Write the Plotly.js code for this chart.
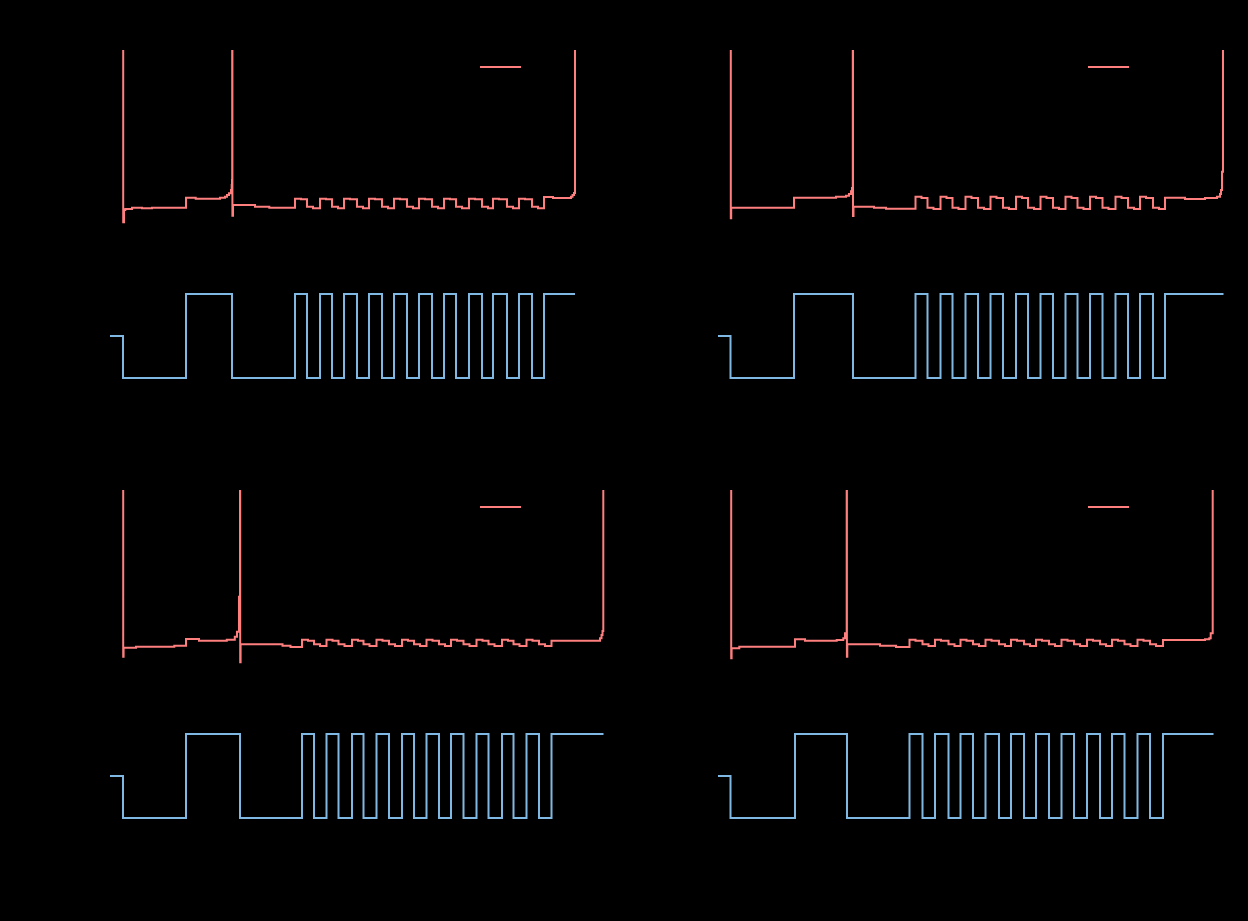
<!DOCTYPE html>
<html>
<head>
<meta charset="utf-8">
<script src="https://cdn.plot.ly/plotly-3.0.1.min.js"></script>
<style>
html, body { margin: 0; padding: 0; background: #000; }
#chart { width: 1248px; height: 921px; }
</style>
</head>
<body>
<div id="chart"></div>
<script>
// ---------------- data ----------------
const seriesName = "Voltage";

// current step levels (same sequence in all four panels): rest, discharge, charge, ...
const currentLevels = [0, -1, 1, -1, 1, -1, 1, -1, 1, -1, 1, -1, 1, -1, 1, -1, 1, -1, 1, -1, 1, -1, 1, -1, 1, 1];

// panel 1 (top-left)
const currentTime1 = [0, 13, 76, 122, 185, 197, 210, 222, 234, 247, 259, 272, 284, 297, 309, 322, 334, 346, 359, 372, 383, 397, 409, 422, 434, 465];
const voltageTime1 = [13, 13.2, 14, 15.3, 22, 32, 42, 76, 85.7, 110, 115, 117, 119, 121, 121.7, 122, 122.2, 122.4, 123, 145, 159.3,
  185, 191, 197, 203, 210, 216, 222, 228, 234, 240, 247, 253, 259, 265, 272, 278, 284, 290, 297, 303,
  309, 315, 322, 328, 334, 340, 346, 352, 359, 365, 372, 378, 383, 389, 397, 403, 409, 415, 422, 428,
  434, 443, 461, 462.5, 464, 465];
const voltage1 = [4.6, 3.043, 3.111, 3.117, 3.124, 3.121, 3.124, 3.179, 3.174, 3.179, 3.185, 3.194, 3.204, 3.222, 3.25, 3.278, 4.6, 3.079, 3.139, 3.129, 3.124,
  3.174, 3.171, 3.129, 3.121, 3.174, 3.171, 3.129, 3.121, 3.174, 3.171, 3.129, 3.121, 3.174, 3.171, 3.129, 3.121, 3.174, 3.171, 3.129, 3.121,
  3.174, 3.171, 3.129, 3.121, 3.174, 3.171, 3.129, 3.121, 3.174, 3.171, 3.129, 3.121, 3.174, 3.171, 3.129, 3.121, 3.174, 3.171, 3.129, 3.121,
  3.183, 3.178, 3.185, 3.194, 3.206, 4.6];

// panel 2 (top-right)
const currentTime2 = [0, 12.5, 76, 135, 197.5, 209.5, 222.5, 234.5, 247.5, 260, 272.5, 285, 298, 310, 322.5, 335, 347.5, 359.5, 372, 384.5, 397.5, 410, 422, 435, 447, 505.5];
const voltageTime2 = [12.6, 12.8, 13.2, 76, 118, 128, 131, 133, 134, 134.8, 135, 135.5, 156, 168,
  197.5, 203.5, 209.5, 215.5, 222.5, 228.5, 234.5, 240.5, 247.5, 253.5, 260, 266, 272.5, 278.5, 285, 291, 298, 304, 310, 316,
  322.5, 328.5, 335, 341, 347.5, 353.5, 359.5, 365.5, 372, 378, 384.5, 390.5, 397.5, 403.5, 410, 416, 422, 428, 435, 441,
  447, 467, 487, 499, 502, 503, 504, 505];
const voltage2 = [4.6, 3.065, 3.124, 3.179, 3.185, 3.19, 3.2, 3.215, 3.233, 4.6, 3.078, 3.129, 3.124, 3.118,
  3.185, 3.178, 3.124, 3.117, 3.185, 3.178, 3.124, 3.117, 3.185, 3.178, 3.124, 3.117, 3.185, 3.178, 3.124, 3.117, 3.185, 3.178, 3.124, 3.117,
  3.185, 3.178, 3.124, 3.117, 3.185, 3.178, 3.124, 3.117, 3.185, 3.178, 3.124, 3.117, 3.185, 3.178, 3.124, 3.117, 3.185, 3.178, 3.124, 3.117,
  3.179, 3.172, 3.178, 3.185, 3.2, 3.222, 3.324, 4.6];

// panel 3 (bottom-left)
const currentTime3 = [0, 13, 76, 130, 192, 204, 216.5, 228.5, 242, 253.5, 266.5, 279, 292, 304, 316.5, 329, 341, 353.5, 366.5, 378.5, 392, 403.5, 416.5, 429, 441.5, 493.5];
const voltageTime3 = [13, 13.2, 13.6, 26, 64.3, 76, 89, 116.8, 124.8, 127, 129, 130, 130.2, 130.6, 172.5, 180.5,
  192, 198, 204, 210, 216.5, 222.5, 228.5, 234.5, 242, 248, 253.5, 259.5, 266.5, 272.5, 279, 285, 292, 298, 304, 310,
  316.5, 322.5, 329, 335, 341, 347, 353.5, 359.5, 366.5, 372.5, 378.5, 384.5, 392, 398, 403.5, 409.5, 416.5, 422.5, 429, 435,
  441.5, 490, 491.5, 492.5, 493.3];
const voltage3 = [4.6, 3.074, 3.124, 3.129, 3.135, 3.172, 3.163, 3.168, 3.185, 3.213, 3.407, 4.6, 3.043, 3.143, 3.135, 3.128,
  3.168, 3.163, 3.143, 3.133, 3.168, 3.163, 3.143, 3.133, 3.168, 3.163, 3.143, 3.133, 3.168, 3.163, 3.143, 3.133, 3.168, 3.163, 3.143, 3.133,
  3.168, 3.163, 3.143, 3.133, 3.168, 3.163, 3.143, 3.133, 3.168, 3.163, 3.143, 3.133, 3.168, 3.163, 3.143, 3.133, 3.168, 3.163, 3.143, 3.133,
  3.163, 3.176, 3.194, 3.217, 4.6];

// panel 4 (bottom-right)
const currentTime4 = [0, 12.5, 77, 129, 191.5, 204.5, 217, 230.5, 242.5, 255, 267.5, 281, 293, 306, 318, 331, 343.5, 356, 369, 382, 394, 406.5, 419.5, 432, 445, 495.5];
const voltageTime4 = [13, 13.2, 13.6, 21.3, 77, 87, 118.7, 125.3, 127, 128.7, 128.9, 129.3, 162, 178,
  191.5, 197.5, 204.5, 210.5, 217, 223, 230.5, 236.5, 242.5, 248.5, 255, 261, 267.5, 273.5, 281, 287, 293, 299, 306, 312,
  318, 324, 331, 337, 343.5, 349.5, 356, 362, 369, 375, 382, 388, 394, 400, 406.5, 412.5, 419.5, 425.5, 432, 438,
  445, 487, 491.3, 492.7, 494.7];
const voltage4 = [4.6, 3.065, 3.121, 3.129, 3.171, 3.163, 3.167, 3.176, 3.204, 4.6, 3.074, 3.143, 3.135, 3.128,
  3.168, 3.163, 3.143, 3.133, 3.168, 3.163, 3.143, 3.133, 3.168, 3.163, 3.143, 3.133, 3.168, 3.163, 3.143, 3.133, 3.168, 3.163, 3.143, 3.133,
  3.168, 3.163, 3.143, 3.133, 3.168, 3.163, 3.143, 3.133, 3.168, 3.163, 3.143, 3.133, 3.168, 3.163, 3.143, 3.133, 3.168, 3.163, 3.143, 3.133,
  3.167, 3.171, 3.176, 3.204, 4.6];

// ---------------- layout helpers ----------------
const W = 1248, H = 921;
const xdom = (l, r) => [l / W, r / W];
const ydom = (top, bottom) => [1 - bottom / H, 1 - top / H];

const RED = "#ff7f7f";
const BLUE = "#7fb9e3";
const INK = "#000000";

const panels = [
  { vt: voltageTime1, v: voltage1, ct: currentTime1, col: [85, 620], top: 0 },
  { vt: voltageTime2, v: voltage2, ct: currentTime2, col: [693, 1228], top: 0 },
  { vt: voltageTime3, v: voltage3, ct: currentTime3, col: [85, 620], top: 440 },
  { vt: voltageTime4, v: voltage4, ct: currentTime4, col: [693, 1228], top: 440 }
];

const traces = [];
const layout = {
  width: W, height: H,
  margin: { l: 0, r: 0, t: 0, b: 0 },
  paper_bgcolor: "#000", plot_bgcolor: "#000",
  font: { family: "DejaVu Sans", size: 12, color: INK },
  showlegend: true
};

function axisBase(extra) {
  return Object.assign({
    showgrid: false, zeroline: false, showline: true, linecolor: INK, linewidth: 1,
    ticks: "outside", tickcolor: INK, tickfont: { color: INK, size: 11 }
  }, extra);
}

panels.forEach((p, i) => {
  const a = 2 * i + 1, b = 2 * i + 2;
  const xa = a === 1 ? "x" : "x" + a, ya = a === 1 ? "y" : "y" + a;
  const xb = "x" + b, yb = "y" + b;
  const legendId = i === 0 ? "legend" : "legend" + (i + 1);

  traces.push({
    x: p.vt, y: p.v, xaxis: xa, yaxis: ya, type: "scatter", mode: "lines",
    line: { color: RED, width: 2, shape: "hv" }, name: seriesName, legend: legendId,
    hoverinfo: "x+y"
  });
  traces.push({
    x: p.ct, y: currentLevels, xaxis: xb, yaxis: yb, type: "scatter", mode: "lines",
    line: { color: BLUE, width: 2, shape: "hv" }, name: "Current", showlegend: false,
    hoverinfo: "x+y"
  });

  const xk = (n) => (n === 1 ? "xaxis" : "xaxis" + n);
  const yk = (n) => (n === 1 ? "yaxis" : "yaxis" + n);
  layout[xk(a)] = axisBase({ domain: xdom(p.col[0], p.col[1]), range: [-25, 510], anchor: ya, showticklabels: false });
  layout[yk(a)] = axisBase({ domain: ydom(50 + p.top, 230 + p.top), range: [3.0, 4.0], anchor: xa,
    title: { text: "Voltage (V)", font: { color: INK, size: 12 } } });
  layout[xk(b)] = axisBase({ domain: xdom(p.col[0], p.col[1]), range: [-25, 510], anchor: yb,
    title: { text: "Time (s)", font: { color: INK, size: 12 } } });
  layout[yk(b)] = axisBase({ domain: ydom(283.5 + p.top, 388.5 + p.top), range: [-1.25, 1.25], anchor: xb,
    title: { text: "Current (A)", font: { color: INK, size: 12 } } });

  layout[legendId] = {
    x: (p.col[0] + 390) / W, y: 1 - (67 + p.top) / H, xanchor: "left", yanchor: "middle",
    bgcolor: "rgba(0,0,0,0)", borderwidth: 0, itemwidth: 41,
    font: { color: INK, size: 12 }
  };
});

Plotly.newPlot("chart", traces, layout, { displayModeBar: false, staticPlot: true });
</script>
</body>
</html>
